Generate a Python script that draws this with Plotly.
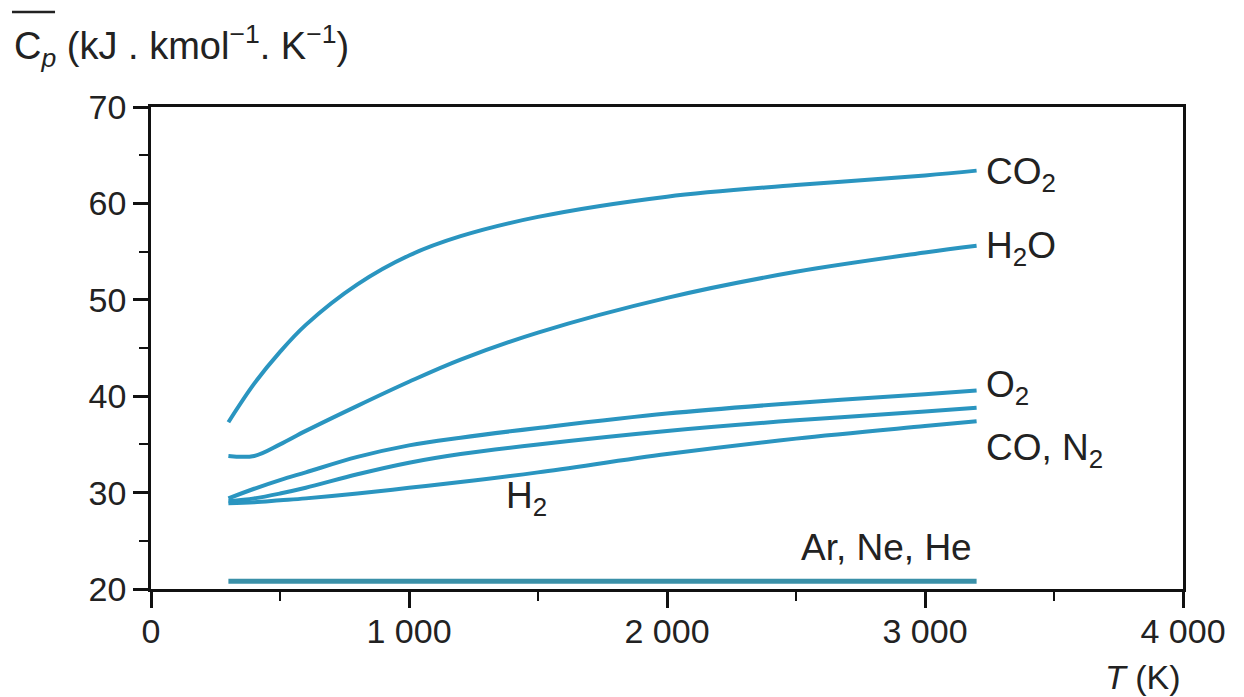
import plotly.graph_objects as go

T = [300, 400, 500, 600, 800, 1000, 1200, 1500, 2000, 2500, 3000, 3200]
cp_co2 = [37.3, 41.3, 44.6, 47.4, 51.6, 54.6, 56.6, 58.6, 60.7, 61.9, 62.9, 63.4]
cp_h2o = [33.8, 33.8, 35.0, 36.4, 39.0, 41.5, 43.8, 46.6, 50.2, 52.9, 54.9, 55.6]
cp_o2 = [29.4, 30.4, 31.3, 32.1, 33.7, 34.9, 35.7, 36.7, 38.2, 39.3, 40.2, 40.6]
cp_co_n2 = [29.1, 29.4, 29.9, 30.5, 31.9, 33.1, 34.0, 35.0, 36.4, 37.5, 38.4, 38.8]
cp_h2 = [28.9, 29.0, 29.2, 29.4, 29.9, 30.5, 31.1, 32.1, 34.0, 35.6, 36.9, 37.4]
T_ar = [300, 3200]
cp_ar = [20.8, 20.8]

x_ticks = [0, 1000, 2000, 3000, 4000]
x_ticktext = ["0", "1 000", "2 000", "3 000", "4 000"]
y_ticks = [20, 30, 40, 50, 60, 70]

labels = [
    ("CO<sub>2</sub>", 3230, 63.0),
    ("H<sub>2</sub>O", 3230, 55.4),
    ("O<sub>2</sub>", 3230, 41.0),
    ("CO, N<sub>2</sub>", 3230, 34.4),
    ("H<sub>2</sub>", 1370, 29.4),
    ("Ar, Ne, He", 2510, 24.3),
]

LINE = "#2a95c0"
TXT = "#222222"
FONT = "Liberation Sans, Arial, sans-serif"

fig = go.Figure()
for ys in [cp_co2, cp_h2o, cp_o2, cp_co_n2, cp_h2]:
    fig.add_trace(go.Scatter(x=T, y=ys, mode="lines", line=dict(color=LINE, width=4, shape="spline"),
                             showlegend=False, hoverinfo="skip"))
fig.add_trace(go.Scatter(x=T_ar, y=cp_ar, mode="lines", line=dict(color="#3a90a8", width=5),
                         showlegend=False, hoverinfo="skip"))

for txt, xx, yy in labels:
    fig.add_annotation(x=xx, y=yy, xref="x", yref="y", text=txt, showarrow=False,
                       xanchor="left", yanchor="middle", font=dict(size=37, color=TXT, family=FONT))

fig.add_annotation(x=-0.1347, y=1.126, xref="paper", yref="paper",
                   text="C<sub><i>p</i></sub> (kJ . kmol<sup>−1</sup>. K<sup>−1</sup>)",
                   showarrow=False, xanchor="left", yanchor="middle",
                   font=dict(size=38, color=TXT, family=FONT))
fig.add_shape(type="line", xref="paper", yref="paper", x0=-0.1347, x1=-0.0930, y0=1.197, y1=1.197,
              line=dict(color=TXT, width=2.5))
fig.add_annotation(x=1.0, y=-0.182, xref="paper", yref="paper",
                   text="<i>T</i> (K)", showarrow=False, xanchor="right", yanchor="middle",
                   font=dict(size=34, color=TXT, family=FONT))

axis_common = dict(showgrid=False, zeroline=False, showline=True, linecolor="#111111", linewidth=2.5,
                   mirror=True, ticks="outside", tickcolor="#111111", tickwidth=2.5,
                   tickfont=dict(size=34, color=TXT, family=FONT))
fig.update_xaxes(range=[0, 4000], tickvals=x_ticks, ticktext=x_ticktext, ticklen=16,
                 ticklabelstandoff=-6,
                 minor=dict(dtick=500, tick0=0, ticklen=9, ticks="outside", tickcolor="#111111", tickwidth=2),
                 **axis_common)
fig.update_yaxes(range=[20, 70], tickvals=y_ticks, ticklen=15, ticklabelstandoff=0,
                 minor=dict(dtick=5, tick0=0, ticklen=9, ticks="outside", tickcolor="#111111", tickwidth=2),
                 **axis_common)

fig.update_layout(width=1236, height=689, margin=dict(l=143, r=61, t=99, b=108),
                  paper_bgcolor="white", plot_bgcolor="white")
fig.write_html("out.html")
